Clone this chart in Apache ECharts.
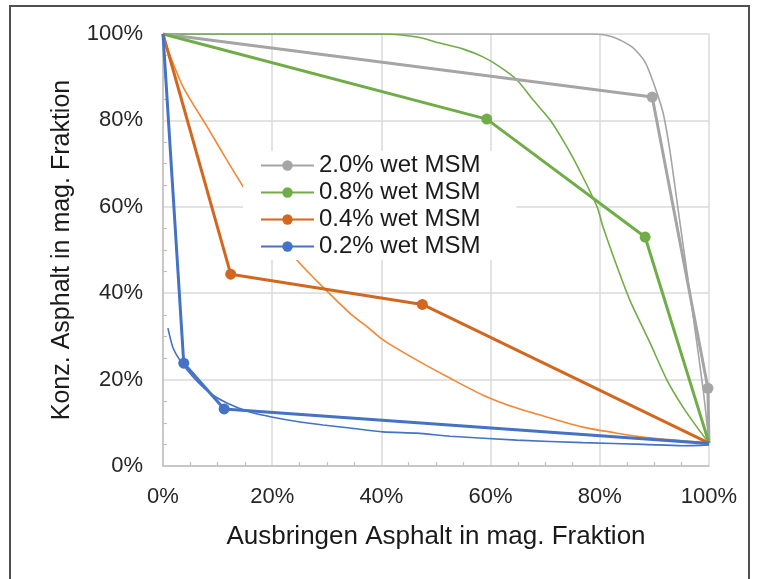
<!DOCTYPE html>
<html>
<head>
<meta charset="utf-8">
<script src="https://cdn.jsdelivr.net/npm/echarts@6/dist/echarts.min.js"></script>
<style>
  body { margin: 0; background: #fff; }
  #chart { width: 758px; height: 579px; }
</style>
</head>
<body>
<div id="chart"></div>
<script>
  // Messreihen (dicke Linien mit Punkten)
  let names = ['2.0% wet MSM', '0.8% wet MSM', '0.4% wet MSM', '0.2% wet MSM']
  let gray = [[0, 100], [89.6, 85.4], [99.8, 18], [100, 5.3]]
  let green = [[0, 100], [59.3, 80.3], [88.3, 53], [100, 5.3]]
  let orange = [[0, 100], [12.4, 44.4], [47.5, 37.4], [100, 5.3]]
  let blue = [[0, 100], [3.8, 23.8], [11.2, 13.2], [100, 5.2]]

  // Kurven (dünne Linien)
  let grayCurve = [[0, 100], [78.8, 100], [82.4, 99.3], [85.9, 97], [88.3, 93.5], [90.1, 87.7],
    [91.6, 81.7], [92.9, 72.5], [94.1, 61.6], [96.5, 40], [98.9, 18], [100, 5.3]]
  let greenCurve = [[0, 100], [40.3, 100], [46.5, 99.3], [50.7, 97.9], [55, 96.5], [58.6, 94.7],
    [61.7, 92.4], [64.8, 89.4], [67.8, 84.7], [70.9, 80.1], [74, 73.8], [76.9, 66.9], [79.5, 60],
    [80.6, 55.3], [83.2, 46], [85.5, 38.4], [89.2, 28.5], [92.3, 19.9], [95.2, 13.7], [97.8, 9], [100, 5.3]]
  let orangeCurve = [[0, 100], [0.7, 97], [3.7, 87.7], [8.1, 78.5], [11.7, 70.8], [14.5, 65], [19, 56],
    [24.5, 47.7], [29.3, 41.4], [34.2, 35.4], [37.4, 32.2], [40.3, 29.2], [46.5, 24.5], [52.6, 20.3],
    [58.6, 16.4], [64.8, 13.4], [70.9, 11.1], [76.9, 9], [83.2, 7.6], [89.2, 6.5], [100, 5.3]]
  let blueCurve = [[0.9, 31.9], [1.8, 27.5], [3.1, 24.5], [5.5, 20.6], [8.6, 16.9], [11.7, 14.6],
    [15.9, 12.5], [20.1, 11.3], [25.1, 10.2], [29.3, 9.5], [34.2, 8.8], [40.3, 7.9], [46.5, 7.6],
    [52.6, 6.9], [64.8, 6], [76.9, 5.4], [88, 5], [95.2, 4.7], [100, 4.9]]

  let font = 'Liberation Sans, Arial, sans-serif'
  let myChart = echarts.init(document.getElementById('chart'), null, {renderer: 'canvas'})

  function curve (name, data, color) {
    return {
      name: name,
      type: 'line',
      data: data,
      symbol: 'none',
      smooth: 0.25,
      lineStyle: {color: color, width: 1.6},
      itemStyle: {color: color},
      z: 2,
      silent: true
    }
  }

  function measured (name, data, color) {
    return {
      name: name,
      type: 'line',
      data: data,
      symbol: 'circle',
      symbolSize: (val, params) => (params.dataIndex === 0 || params.dataIndex === data.length - 1) ? 0 : 11,
      lineStyle: {color: color, width: 3},
      itemStyle: {color: color},
      z: 3
    }
  }

  let option = {
    animation: false,
    textStyle: {fontFamily: font},
    graphic: [{
      type: 'rect',
      shape: {x: 10, y: 6, width: 739, height: 620},
      style: {fill: 'none', stroke: '#505050', lineWidth: 2},
      silent: true
    }],
    grid: {left: 163, right: 49, top: 34, bottom: 113},
    legend: {
      data: names,
      orient: 'vertical',
      left: 243,
      top: 151,
      padding: [1, 36, 0, 17],
      backgroundColor: '#fff',
      itemWidth: 53,
      itemHeight: 13,
      itemGap: 0,
      textStyle: {fontSize: 24, lineHeight: 27, color: '#1a1a1a', fontFamily: font},
      z: 10
    },
    xAxis: {
      type: 'value',
      min: 0,
      max: 100,
      interval: 20,
      name: 'Ausbringen Asphalt in mag. Fraktion',
      nameLocation: 'middle',
      nameGap: 58,
      nameTextStyle: {fontSize: 26, color: '#1a1a1a'},
      axisLine: {lineStyle: {color: '#bfbfbf', width: 1.5}},
      axisTick: {show: false, inside: true},
      minorTick: {show: true, splitNumber: 4, length: 4, lineStyle: {color: '#bfbfbf', width: 1.2}},
      splitLine: {lineStyle: {color: '#dadada', width: 1.5}},
      axisLabel: {formatter: '{value}%', fontSize: 22, color: '#262626', margin: 20}
    },
    yAxis: {
      type: 'value',
      min: 0,
      max: 100,
      interval: 20,
      name: 'Konz. Asphalt in mag. Fraktion',
      nameLocation: 'middle',
      nameGap: 88,
      nameTextStyle: {fontSize: 25, color: '#1a1a1a'},
      axisLine: {show: true, lineStyle: {color: '#bfbfbf', width: 1.5}},
      axisTick: {show: false, inside: true},
      minorTick: {show: true, splitNumber: 4, length: 4, lineStyle: {color: '#bfbfbf', width: 1.2}},
      splitLine: {lineStyle: {color: '#dadada', width: 1.5}},
      axisLabel: {formatter: '{value}%', fontSize: 22, color: '#262626', margin: 20}
    },
    series: [
      curve('Kurve 2.0%', grayCurve, '#a5a5a5'),
      curve('Kurve 0.8%', greenCurve, '#70ad47'),
      curve('Kurve 0.4%', orangeCurve, '#f58634'),
      curve('Kurve 0.2%', blueCurve, '#4472c4'),
      measured(names[0], gray, '#a5a5a5'),
      measured(names[1], green, '#70ad47'),
      measured(names[2], orange, '#d2671f'),
      measured(names[3], blue, '#4472c4')
    ]
  }
  myChart.setOption(option)
</script>
</body>
</html>
